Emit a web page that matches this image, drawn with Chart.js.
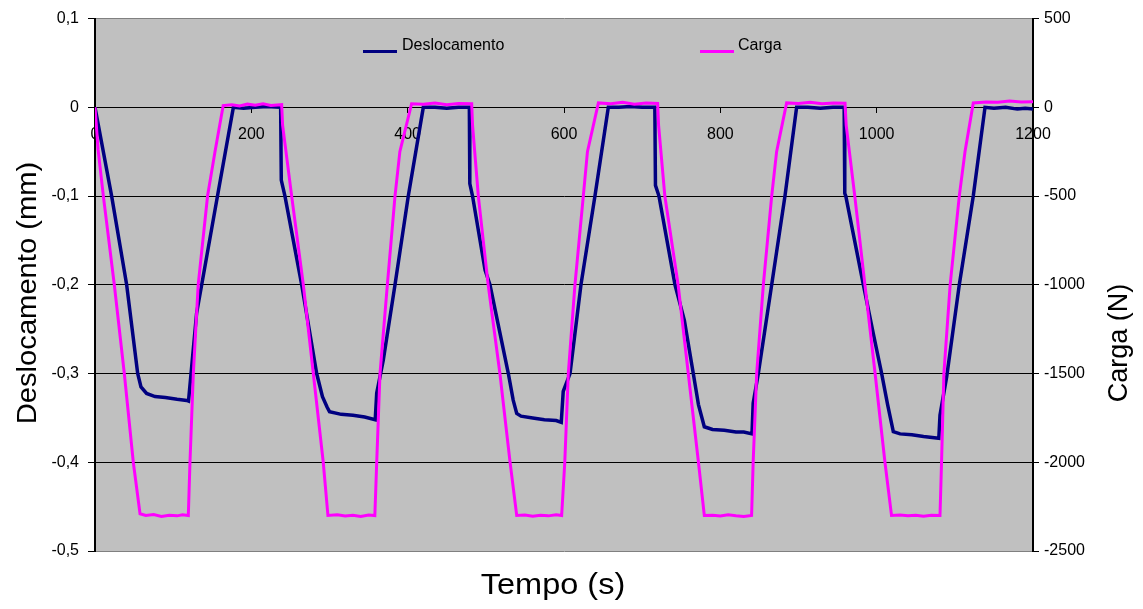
<!DOCTYPE html>
<html><head><meta charset="utf-8">
<script src="https://cdn.jsdelivr.net/npm/chart.js@4/dist/chart.umd.min.js"></script>
<style>html,body{margin:0;padding:0;background:#fff;}#wrap{width:1143px;height:609px;position:relative;}</style>
</head><body><div id="wrap"><canvas id="c" width="1143" height="609"></canvas></div>
<script>
// ---- data ----
const seriesNames = ['Deslocamento', 'Carga'];
const xTitle = 'Tempo (s)';
const leftTitle = 'Deslocamento (mm)';
const rightTitle = 'Carga (N)';

const leftTickValues = [-0.5, -0.4, -0.3, -0.2, -0.1, 0, 0.1];
const leftTickLabels = ['-0,5', '-0,4', '-0,3', '-0,2', '-0,1', '0', '0,1'];
const rightTickValues = [-2500, -2000, -1500, -1000, -500, 0, 500];
const rightTickLabels = ['-2500', '-2000', '-1500', '-1000', '-500', '0', '500'];
const timeTickValues = [0, 200, 400, 600, 800, 1000, 1200];
const timeTickLabels = ['0', '200', '400', '600', '800', '1000', '1200'];

// Deslocamento (mm) vs time (s)
const dispTime = [0, 21.3, 40.5, 54.6, 58.8, 66, 76.8, 90, 105, 117.3, 119.6,
  121, 123.7, 130, 136.5, 156.7, 177, 190, 205, 220, 237.5,
  238.3, 243, 264.4, 283.6, 291, 297, 300, 315, 330, 345, 358.5,
  360.4, 368.8, 383.8, 400.8, 420, 435, 450, 465, 478.9,
  479.5, 483, 499, 505.3, 528.8, 535, 539.5, 545, 560, 575, 590, 596.5,
  599, 607.7, 621.7, 639.6, 656.7, 670, 685, 700, 716.2,
  717, 721.5, 742, 754, 765.4, 772, 779.5, 790, 805, 820, 830, 840.5,
  842, 848.6, 865.7, 882.7, 897.6, 912, 928, 944, 958.4,
  959.2, 960.5, 983, 995.7, 1006.4, 1014, 1021.3, 1030, 1045, 1060, 1079.5,
  1081, 1089.6, 1105.7, 1123.6, 1138.6, 1150, 1165, 1180, 1190, 1200];
const dispMm = [0, -0.1, -0.2, -0.3, -0.315, -0.3225, -0.326, -0.327, -0.329, -0.3303, -0.331,
  -0.318, -0.292, -0.232, -0.2, -0.1, 0, -0.001, 0, 0.001, 0,
  -0.082, -0.1, -0.2, -0.3, -0.326, -0.338, -0.343, -0.346, -0.347, -0.349, -0.352,
  -0.322, -0.285, -0.2, -0.1, 0, 0, -0.001, 0, 0,
  -0.086, -0.1, -0.1835, -0.2, -0.3, -0.33, -0.345, -0.348, -0.35, -0.352, -0.353, -0.355,
  -0.32, -0.3, -0.2, -0.1, 0, 0, 0.001, 0, 0,
  -0.088, -0.1, -0.2, -0.24, -0.3, -0.335, -0.36, -0.363, -0.364, -0.366, -0.366, -0.368,
  -0.3335, -0.3, -0.2, -0.1, 0, 0, -0.001, 0, 0,
  -0.097, -0.1, -0.2, -0.255, -0.3, -0.335, -0.3655, -0.368, -0.369, -0.371, -0.373,
  -0.347, -0.3035, -0.2, -0.1, 0, -0.001, 0, -0.002, -0.001, -0.002];

// Carga (N) vs time (s)
const loadTime = [0, 4, 10.7, 24.7, 37.5, 49, 57.6, 65, 75, 85, 95, 105, 112, 119.4,
  121.5, 125.8, 132, 144, 153.5, 164, 175, 185, 195, 205, 215, 225, 238.8,
  240, 251.6, 266.5, 279.3, 292, 298, 310, 320, 330, 340, 350, 358,
  360.4, 364.6, 374, 383.8, 390, 405, 420, 435, 450, 465, 481.9,
  483, 490.4, 503, 518, 531, 539.5, 550, 560, 570, 580, 590, 597,
  601, 605.5, 614, 624.7, 630, 644, 660, 675, 690, 705, 719.8,
  721, 729, 746, 759, 772, 779.5, 790, 800, 810, 820, 830, 840,
  842, 846.5, 855, 865.7, 872, 884.8, 900, 915, 930, 945, 959.5,
  961, 972, 985, 998, 1010.6, 1019, 1030, 1040, 1050, 1060, 1070, 1081,
  1083, 1086, 1094, 1105.7, 1113, 1123.6, 1140, 1155, 1170, 1185, 1200];
const loadN = [0, -240, -500, -1000, -1500, -2000, -2290, -2300, -2295, -2305, -2298, -2302, -2296, -2300,
  -2000, -1500, -1000, -500, -250, 10, 15, 8, 18, 12, 20, 10, 15,
  -100, -500, -1000, -1500, -2000, -2300, -2296, -2303, -2298, -2305, -2297, -2300,
  -2000, -1500, -1000, -500, -250, 20, 18, 25, 15, 22, 20,
  -100, -500, -1000, -1500, -2000, -2300, -2297, -2304, -2299, -2302, -2296, -2300,
  -2000, -1500, -1000, -500, -250, 25, 20, 28, 18, 25, 22,
  -100, -500, -1000, -1500, -2000, -2300, -2298, -2303, -2296, -2301, -2305, -2300,
  -2000, -1500, -1000, -500, -250, 25, 22, 28, 20, 25, 23,
  -100, -500, -1000, -1500, -2000, -2300, -2297, -2302, -2298, -2304, -2299, -2300,
  -2000, -1500, -1000, -500, -250, 25, 30, 28, 35, 30, 32];

// ---- chart ----
const FONT = '"Liberation Sans", Arial, sans-serif';
const labelFor = (vals, labs) => (v) => {
  let best = 0;
  for (let i = 1; i < vals.length; i++) if (Math.abs(vals[i] - v) < Math.abs(vals[best] - v)) best = i;
  return Math.abs(vals[best] - v) < 1e-6 * Math.max(1, Math.abs(v)) + 1e-9 ? labs[best] : '';
};

const bgPlugin = {
  id: 'plotBg',
  beforeDraw(chart) {
    const {ctx, chartArea: a} = chart;
    ctx.save();
    ctx.fillStyle = '#C0C0C0';
    ctx.fillRect(a.left, a.top, a.right - a.left, a.bottom - a.top);
    ctx.restore();
  }
};

function drawTitle(ctx, text, x, y, rot, size, stretch) {
  ctx.save();
  ctx.translate(x, y);
  ctx.rotate(rot);
  ctx.scale(stretch, 1);
  ctx.font = size + 'px ' + FONT;
  ctx.fillStyle = '#000';
  ctx.textAlign = 'center';
  ctx.textBaseline = 'middle';
  ctx.fillText(text, 0, 0);
  ctx.restore();
}

const decorPlugin = {
  id: 'decor',
  afterDraw(chart) {
    const {ctx} = chart;
    ctx.save();
    // legend
    const items = [{x: 363, tx: 402}, {x: 700, tx: 738}];
    chart.data.datasets.forEach((ds, i) => {
      const it = items[i];
      ctx.strokeStyle = ds.borderColor;
      ctx.lineWidth = 3;
      ctx.beginPath();
      ctx.moveTo(it.x, 51.5);
      ctx.lineTo(it.x + 34, 51.5);
      ctx.stroke();
      ctx.fillStyle = '#000';
      ctx.font = '16px ' + FONT;
      ctx.textAlign = 'left';
      ctx.textBaseline = 'middle';
      ctx.fillText(ds.label, it.tx, 46);
    });
    ctx.restore();
    // axis titles
    drawTitle(ctx, xTitle, 553, 586, 0, 29, 1.12);
    drawTitle(ctx, leftTitle, 29, 293, -Math.PI / 2, 27, 1.08);
    drawTitle(ctx, rightTitle, 1120, 343, -Math.PI / 2, 27, 1.0);
  }
};

new Chart(document.getElementById('c'), {
  type: 'line',
  data: {
    datasets: [
      {
        label: seriesNames[0],
        data: dispTime.map((t, i) => ({x: t, y: dispMm[i]})),
        yAxisID: 'y',
        borderColor: '#000080',
        borderWidth: 3.5,
        pointRadius: 0,
        tension: 0,
        fill: false,
        order: 2
      },
      {
        label: seriesNames[1],
        data: loadTime.map((t, i) => ({x: t, y: loadN[i]})),
        yAxisID: 'y2',
        borderColor: '#FF00FF',
        borderWidth: 3,
        pointRadius: 0,
        tension: 0,
        fill: false,
        order: 1
      }
    ]
  },
  options: {
    responsive: false,
    animation: false,
    devicePixelRatio: 1,
    layout: {padding: {top: 18, bottom: 58, left: 0, right: 0}},
    plugins: {legend: {display: false}, tooltip: {enabled: false}, title: {display: false}},
    scales: {
      x: {
        type: 'linear', min: 0, max: 1200,
        position: {y: 0},
        afterBuildTicks(s) { s.ticks = timeTickValues.map(v => ({value: v})); },
        ticks: {autoSkip: false, maxRotation: 0, color: '#000', font: {family: FONT, size: 16}, padding: 13,
          callback: labelFor(timeTickValues, timeTickLabels)},
        grid: {drawOnChartArea: false, drawTicks: true, tickLength: 5, color: '#000'},
        border: {display: true, color: '#000', width: 1}
      },
      y: {
        type: 'linear', position: 'left', min: -0.5, max: 0.1,
        afterBuildTicks(s) { s.ticks = leftTickValues.map(v => ({value: v})); },
        afterFit(s) { s.width = 95; },
        ticks: {color: '#000', font: {family: FONT, size: 16}, padding: 9,
          callback: labelFor(leftTickValues, leftTickLabels)},
        grid: {
          color: (c) => (c.tick && (Math.abs(c.tick.value - 0.1) < 1e-9 || Math.abs(c.tick.value + 0.5) < 1e-9)) ? '#808080' : '#000',
          lineWidth: 1, drawTicks: true, tickLength: 7, tickColor: '#000'
        },
        border: {display: true, color: '#000', width: 2}
      },
      y2: {
        type: 'linear', position: 'right', min: -2500, max: 500,
        afterBuildTicks(s) { s.ticks = rightTickValues.map(v => ({value: v})); },
        afterFit(s) { s.width = 110; },
        ticks: {color: '#000', font: {family: FONT, size: 16}, padding: 5,
          callback: labelFor(rightTickValues, rightTickLabels)},
        grid: {drawOnChartArea: false, drawTicks: true, tickLength: 6, tickColor: '#000', color: '#000'},
        border: {display: true, color: '#000', width: 2}
      }
    }
  },
  plugins: [bgPlugin, decorPlugin]
});
</script>
</body></html>
